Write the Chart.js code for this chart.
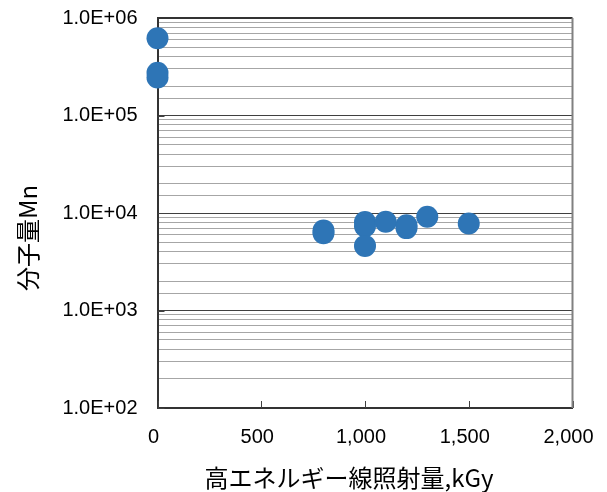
<!DOCTYPE html>
<html>
<head>
<meta charset="utf-8">
<script src="https://cdn.jsdelivr.net/npm/chart.js@4.4.1/dist/chart.umd.min.js"></script>
<style>
  html, body { margin: 0; padding: 0; background: #ffffff; }
  #wrap { width: 607px; height: 492px; }
</style>
</head>
<body>
<div id="wrap"><canvas id="c" width="607" height="492"></canvas></div>
<script>
// ---- data ----
const doseKGy = [0, 0, 0, 800, 800, 1000, 1000, 1000, 1100, 1200, 1200, 1300, 1500];
const molecularMn = [620000, 275000, 245000, 6600, 6200, 8100, 7300, 4600, 8150, 7500, 7000, 9150, 7800];
const xTickValues = [0, 500, 1000, 1500, 2000];
const xTickLabels = ['0', '500', '1,000', '1,500', '2,000'];
const yTickValues = [100, 1000, 10000, 100000, 1000000];
const yTickLabels = ['1.0E+02', '1.0E+03', '1.0E+04', '1.0E+05', '1.0E+06'];
const xTitle = '高エネルギー線照射量,kGy';
const yTitle = '分子量Mn';

const points = doseKGy.map((x, i) => ({ x: x, y: molecularMn[i] }));

function isMajor(v) {
  return yTickValues.some(t => Math.abs(t - v) / t < 1e-6);
}

const framePlugin = {
  id: 'framePlugin',
  beforeDatasetsDraw(chart) {
    const { ctx, chartArea: a, scales } = chart;
    ctx.save();
    ctx.strokeStyle = '#404040';
    ctx.lineWidth = 1;
    xTickValues.forEach(v => {
      const px = Math.round(scales.x.getPixelForValue(v)) + 0.5;
      ctx.beginPath();
      ctx.moveTo(px, a.bottom);
      ctx.lineTo(px, a.bottom - 7);
      ctx.stroke();
    });
    yTickValues.forEach(v => {
      const py = Math.round(scales.y.getPixelForValue(v)) + 0.5;
      ctx.beginPath();
      ctx.moveTo(a.left, py);
      ctx.lineTo(a.left + 7, py);
      ctx.stroke();
    });
    ctx.strokeStyle = '#333333';
    ctx.lineWidth = 2;
    ctx.beginPath();
    ctx.moveTo(a.left, a.top);
    ctx.lineTo(a.right, a.top);
    ctx.stroke();
    ctx.strokeStyle = '#808080';
    ctx.lineWidth = 2;
    ctx.beginPath();
    ctx.moveTo(a.right, a.top);
    ctx.lineTo(a.right, a.bottom);
    ctx.stroke();
    ctx.fillStyle = '#000000';
    ctx.font = '24px "Noto Sans CJK JP", sans-serif';
    ctx.textAlign = 'center';
    ctx.textBaseline = 'middle';
    ctx.fillText(xTitle, 349, 478);
    ctx.translate(28, 238);
    ctx.rotate(-Math.PI / 2);
    ctx.fillText(yTitle, 0, 0);
    ctx.restore();
  }
};

new Chart(document.getElementById('c'), {
  type: 'scatter',
  data: {
    datasets: [{
      data: points,
      backgroundColor: '#2E75B6',
      borderWidth: 0,
      pointRadius: 11,
      pointHoverRadius: 11,
      clip: false
    }]
  },
  options: {
    responsive: false,
    animation: false,
    events: [],
    layout: { padding: { top: 18, right: 34.5, left: 0, bottom: 0 } },
    plugins: {
      legend: { display: false },
      tooltip: { enabled: false }
    },
    scales: {
      x: {
        type: 'linear',
        min: 0,
        max: 2000,
        afterFit(scale) {
          scale.height = 84;
          scale.paddingLeft = 0; scale.paddingRight = 0;
          scale.paddingTop = 0; scale.paddingBottom = 0;
        },
        afterBuildTicks(scale) { scale.ticks = xTickValues.map(v => ({ value: v })); },
        ticks: {
          autoSkip: false,
          maxRotation: 0,
          padding: 17,
          labelOffset: -4,
          color: '#000000',
          font: { family: '"Liberation Sans", Arial, sans-serif', size: 20 },
          callback(v) {
            const i = xTickValues.indexOf(v);
            return i >= 0 ? xTickLabels[i] : '';
          }
        },
        grid: { display: false, drawTicks: false },
        border: { display: true, color: '#333333', width: 2 }
      },
      y: {
        type: 'logarithmic',
        min: 100,
        max: 1000000,
        afterFit(scale) {
          scale.width = 157.5;
          scale.paddingLeft = 0; scale.paddingRight = 0;
          scale.paddingTop = 0; scale.paddingBottom = 0;
        },
        ticks: {
          autoSkip: false,
          padding: 20,
          color: '#000000',
          font: { family: '"Liberation Sans", Arial, sans-serif', size: 20 },
          callback(v) {
            const i = yTickValues.findIndex(t => Math.abs(t - v) / t < 1e-6);
            return i >= 0 ? yTickLabels[i] : '';
          }
        },
        grid: {
          drawTicks: false,
          color(ctx) { return isMajor(ctx.tick.value) ? '#404040' : '#a6a6a6'; },
          lineWidth: 1
        },
        border: { display: true, color: '#333333', width: 2 }
      }
    }
  },
  plugins: [framePlugin]
});
</script>
</body>
</html>
